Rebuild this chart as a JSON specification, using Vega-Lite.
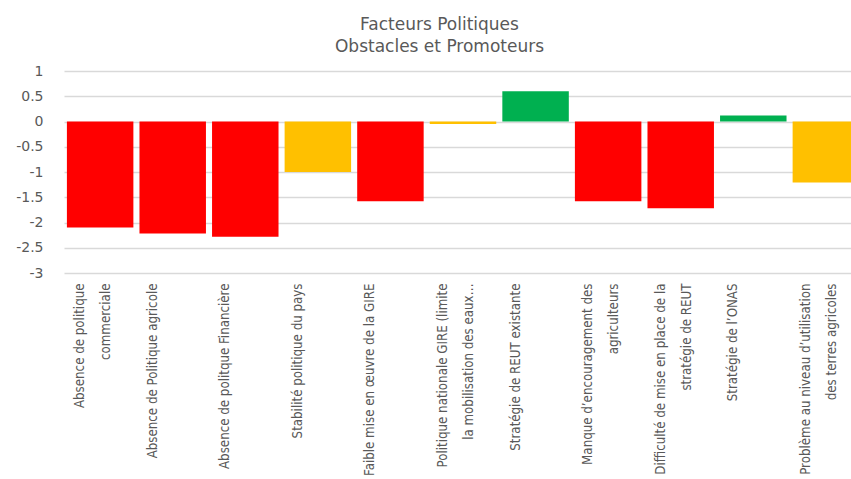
{
  "$schema": "https://vega.github.io/schema/vega-lite/v6.json",
  "autosize": {"type": "none"},
  "padding": {"left": 64, "top": 71, "right": 0, "bottom": 206},
  "width": 787,
  "height": 202,
  "background": "white",
  "title": {
    "text": ["Facteurs Politiques", "Obstacles et Promoteurs"],
    "font": "DejaVu Sans",
    "fontSize": 17,
    "fontWeight": "normal",
    "color": "#595959",
    "anchor": "middle",
    "dx": -18,
    "offset": 8,
    "lineHeight": 22
  },
  "data": {
    "values": [
      {"facteur": "Absence de politique|commerciale", "score": -2.1, "type": "Obstacle"},
      {"facteur": "Absence de Politique agricole", "score": -2.22, "type": "Obstacle"},
      {"facteur": "Absence de politque Financière", "score": -2.28, "type": "Obstacle"},
      {"facteur": "Stabilité politique du pays", "score": -1.0, "type": "Neutre"},
      {"facteur": "Faible mise en œuvre de la GIRE", "score": -1.58, "type": "Obstacle"},
      {"facteur": "Politique nationale GIRE (limite|la mobilisation des eaux…", "score": -0.05, "type": "Neutre"},
      {"facteur": "Stratégie de REUT existante", "score": 0.6, "type": "Promoteur"},
      {"facteur": "Manque d’encouragement  des|agriculteurs", "score": -1.58, "type": "Obstacle"},
      {"facteur": "Difficulté de mise en place de la|stratégie de REUT", "score": -1.72, "type": "Obstacle"},
      {"facteur": "Stratégie de l’ONAS", "score": 0.12, "type": "Promoteur"},
      {"facteur": "Problème au niveau d’utilisation|des terres agricoles", "score": -1.21, "type": "Neutre"}
    ]
  },
  "mark": {"type": "bar"},
  "encoding": {
    "x": {
      "field": "facteur",
      "type": "nominal",
      "sort": null,
      "scale": {"paddingInner": 0.084, "paddingOuter": 0.04, "range": [0, 798]},
      "axis": {
        "title": null,
        "domain": false,
        "ticks": false,
        "labelAngle": -90,
        "labelAlign": "right",
        "labelBaseline": "top",
        "labelOffset": -26,
        "labelExpr": "split(datum.label, '|')",
        "labelFont": "DejaVu Sans Condensed",
        "labelFontSize": 13.2,
        "labelColor": "#595959",
        "labelLineHeight": 26,
        "labelPadding": 10,
        "labelLimit": 300
      }
    },
    "y": {
      "field": "score",
      "type": "quantitative",
      "scale": {"domain": [-3, 1], "nice": false, "zero": false},
      "axis": {
        "title": null,
        "values": [-3, -2.5, -2, -1.5, -1, -0.5, 0, 0.5, 1],
        "labelExpr": "'' + datum.value",
        "domain": false,
        "ticks": false,
        "grid": true,
        "gridColor": "#D9D9D9",
        "gridWidth": 1.5,
        "labelFont": "DejaVu Sans",
        "labelFontSize": 14,
        "labelColor": "#595959",
        "labelPadding": 21
      }
    },
    "color": {
      "field": "type",
      "type": "nominal",
      "scale": {"domain": ["Obstacle", "Neutre", "Promoteur"], "range": ["#FF0000", "#FFC000", "#00B050"]},
      "legend": null
    }
  },
  "config": {"view": {"stroke": null}}
}
